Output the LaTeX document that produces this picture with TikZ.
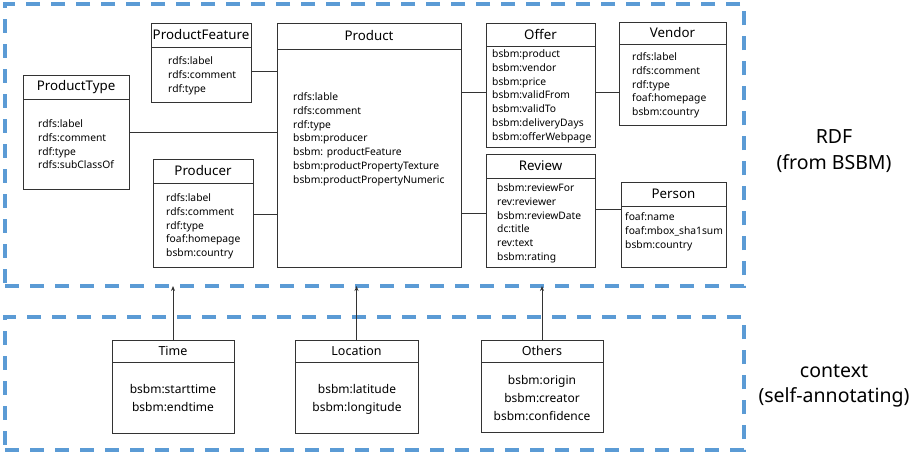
\documentclass[tikz,border=0pt]{standalone}
\usepackage{fontspec}
\setmainfont{Noto Sans}
\usetikzlibrary{arrows.meta}

\definecolor{framecol}{HTML}{5B9BD5}
\definecolor{boxline}{HTML}{333333}

\tikzset{
  frame/.style={draw=framecol, line width=3.3pt, dash pattern=on 14pt off 11pt,
    inner sep=0pt, outer sep=0pt, anchor=north west},
  umlbox/.style={draw=boxline, line width=0.9pt, inner sep=0pt, outer sep=0pt, anchor=north west},
  ttl/.style={font=\fontsize{13.3}{15}\selectfont, inner sep=0pt},
  ctxttl/.style={font=\fontsize{12.5}{15}\selectfont, inner sep=0pt},
  items/.style={font=\fontsize{10.3}{13.8}\selectfont, align=left, anchor=north west, inner sep=0pt},
  ctxitems/.style={font=\fontsize{12}{17.8}\selectfont, align=center, anchor=north, inner sep=0pt},
  side/.style={font=\fontsize{19.5}{25.5}\selectfont, align=center, inner sep=0pt},
  link/.style={draw=boxline, line width=0.9pt},
  up/.style={draw=boxline, line width=0.9pt, -{Stealth[length=5pt,width=4pt]}},
}

% class box: name, x, y, width, height, header height, title, title style
\newcommand\umlclass[8][ttl]{%
  \node[umlbox, minimum width=#5pt, minimum height=#6pt] (#2) at (#3,#4) {};
  \draw[link] ([yshift=-#7pt]#2.north west) -- ([yshift=-#7pt]#2.north east);
  \node[#1] (#2-t) at ([yshift={-0.5*#7pt}]#2.north) {#8};}

\begin{document}
\begin{tikzpicture}[x=1pt, y=-1pt]
\useasboundingbox (0,0) rectangle (920,456);

% dashed layer frames
\node[frame, minimum width=739pt, minimum height=282pt] (rdf) at (5,4) {};
\node[frame, minimum width=739pt, minimum height=133pt] (ctx) at (5,317) {};

\node[side] (rdf-l) at (834,151) {RDF\\(from BSBM)};
\node[side] (ctx-l) at (834,386) {context\\(self-annotating)};

% RDF classes
\umlclass{ptype}{23}{75}{106}{114}{24}{ProductType}
\node[items] (ptype-i) at (38,119.5) {rdfs:label\\rdfs:comment\\rdf:type\\rdfs:subClassOf};

\umlclass{pfeat}{151}{23}{100}{79}{24}{ProductFeature}
\node[items] (pfeat-i) at (168,56.5) {rdfs:label\\rdfs:comment\\rdf:type};

\umlclass{prod}{153}{159}{100}{108}{24}{Producer}
\node[items] (prod-i) at (166,193.5) {rdfs:label\\rdfs:comment\\rdf:type\\foaf:homepage\\bsbm:country};

\umlclass{product}{277}{23}{184}{244}{26}{Product}
\node[items] (product-i) at (293,92.5) {rdfs:lable\\rdfs:comment\\rdf:type\\bsbm:producer\\bsbm: productFeature\\bsbm:productPropertyTexture\\bsbm:productPropertyNumeric};

\umlclass{offer}{486}{23}{109}{124}{23}{Offer}
\node[items] (offer-i) at (492,49.5) {bsbm:product\\bsbm:vendor\\bsbm:price\\bsbm:validFrom\\bsbm:validTo\\bsbm:deliveryDays\\bsbm:offerWebpage};

\umlclass{vendor}{619}{22}{107}{103}{22}{Vendor}
\node[items] (vendor-i) at (632,52.5) {rdfs:label\\rdfs:comment\\rdf:type\\foaf:homepage\\bsbm:country};

\umlclass{review}{486}{154}{109}{113}{24}{Review}
\node[items] (review-i) at (497,183.5) {bsbm:reviewFor\\rev:reviewer\\bsbm:reviewDate\\dc:title\\rev:text\\bsbm:rating};

\umlclass{person}{621}{182}{105}{85}{24}{Person}
\node[items] (person-i) at (625,212.5) {foaf:name\\foaf:mbox\_sha1sum\\bsbm:country};

% associations
\coordinate (y71) at (0,71);
\coordinate (y132) at (0,132);
\coordinate (y214) at (0,214);
\coordinate (y92) at (0,92);
\coordinate (y213) at (0,213);
\coordinate (y209) at (0,209);
\draw[link] (pfeat.east |- y71) -- (product.west |- y71);
\draw[link] (ptype.east |- y132) -- (product.west |- y132);
\draw[link] (prod.east |- y214) -- (product.west |- y214);
\draw[link] (product.east |- y92) -- (offer.west |- y92);
\draw[link] (offer.east |- y92) -- (vendor.west |- y92);
\draw[link] (product.east |- y213) -- (review.west |- y213);
\draw[link] (review.east |- y209) -- (person.west |- y209);

% context classes
\umlclass[ctxttl]{time}{112}{340}{122}{93}{22}{Time}
\node[ctxitems] (time-i) at (173,384.5) {bsbm:starttime\\bsbm:endtime};

\umlclass[ctxttl]{loc}{295}{340}{123}{93}{22}{Location}
\node[ctxitems] (loc-i) at (357,384.5) {bsbm:latitude\\bsbm:longitude};

\umlclass[ctxttl]{oth}{481}{340}{122}{92}{22}{Others}
\node[ctxitems] (oth-i) at (542,375.5) {bsbm:origin\\bsbm:creator\\bsbm:confidence};

% context annotates the RDF layer
\draw[up] (time.north) -- (time.north |- rdf.south);
\draw[up] (loc.north) -- (loc.north |- rdf.south);
\draw[up] (oth.north) -- (oth.north |- rdf.south);
\end{tikzpicture}
\end{document}
